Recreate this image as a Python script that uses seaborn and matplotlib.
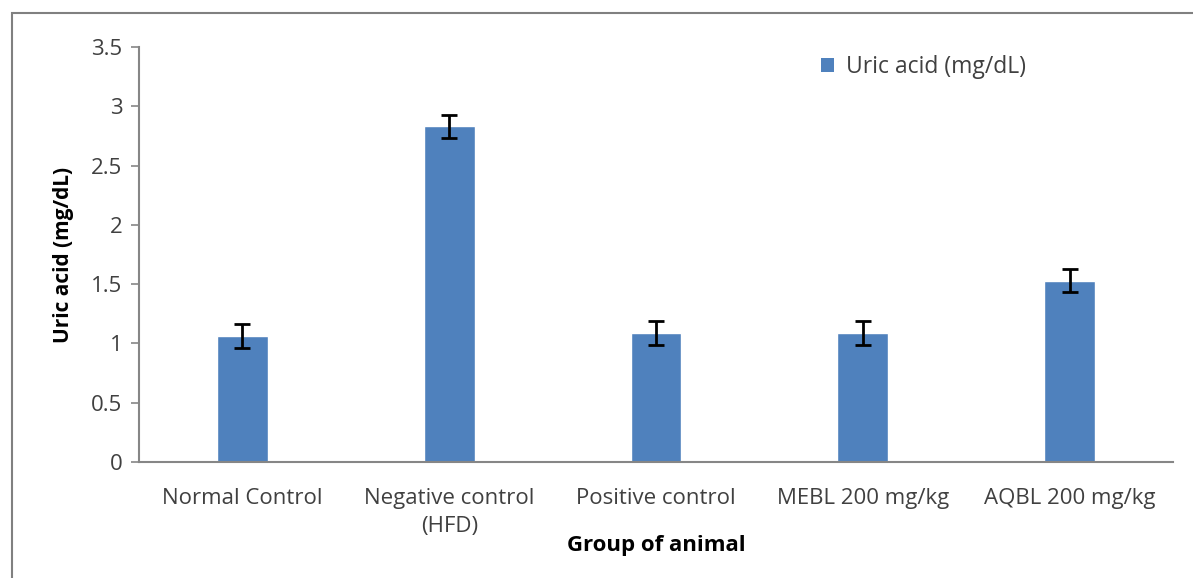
import matplotlib
matplotlib.use("Agg")
import matplotlib.pyplot as plt
import seaborn as sns
import pandas as pd
from matplotlib.patches import Rectangle, Patch

# Serum uric acid per treatment group (mean ± error)
groups = ["Normal Control", "Negative control\n(HFD)", "Positive control",
          "MEBL 200 mg/kg", "AQBL 200 mg/kg"]
uric_acid = [1.06, 2.83, 1.09, 1.09, 1.53]
uric_err = [0.10, 0.10, 0.10, 0.10, 0.10]
y_ticks = [0, 0.5, 1, 1.5, 2, 2.5, 3, 3.5]
y_tick_labels = ["0", "0.5", "1", "1.5", "2", "2.5", "3", "3.5"]

bar_color = "#4F81BD"
axis_gray = "#868686"
text_color = "#404040"

sns.set_theme(style="white")
plt.rcParams["font.family"] = ["Open Sans", "DejaVu Sans"]

fig = plt.figure(figsize=(11.93, 5.78), dpi=100)
ax = fig.add_axes([139 / 1193, 1 - 462 / 578, (1173 - 139) / 1193, (462 - 47) / 578])

df = pd.DataFrame({"group": groups, "value": uric_acid})
sns.barplot(data=df, x="group", y="value", color=bar_color, width=0.245,
            errorbar=None, saturation=1, ax=ax, zorder=2)

centers = [p.get_x() + p.get_width() / 2 for p in ax.patches]
ax.errorbar(centers, uric_acid, yerr=uric_err, fmt="none", ecolor="black",
            elinewidth=2, capsize=6, capthick=2, zorder=3)

ax.set_ylim(0, 3.5)
ax.set_xlim(-0.5, len(groups) - 0.5)
ax.set_yticks(y_ticks)
ax.set_yticklabels(y_tick_labels)

for side in ["top", "right"]:
    ax.spines[side].set_visible(False)
for side in ["left", "bottom"]:
    ax.spines[side].set_color(axis_gray)
    ax.spines[side].set_linewidth(1.5)

ax.tick_params(axis="y", which="both", left=True, length=6, width=1.2,
               color=axis_gray, labelsize=16, labelcolor=text_color, pad=6)
ax.tick_params(axis="x", bottom=False, labelsize=16, labelcolor=text_color, pad=13)
for lbl in ax.get_xticklabels():
    lbl.set_linespacing(1.4)

ax.set_xlabel("Group of animal", fontsize=16, fontweight="bold",
              color="black", labelpad=-1)
ax.set_ylabel("Uric acid (mg/dL)", fontsize=15, fontweight="bold",
              color="black", labelpad=12)

handle = Patch(facecolor=bar_color, edgecolor="none")
ax.legend([handle], ["Uric acid (mg/dL)"], loc="upper left",
          bbox_to_anchor=((800 - 139) / (1173 - 139), 1.03),
          frameon=False, fontsize=16.5, handlelength=0.6, handleheight=0.6,
          handletextpad=0.5, labelcolor=text_color)

# Outer frame line along the top and left edges
fig.patches.append(Rectangle((12 / 1193, -0.1), 1.2, 1 - 13 / 578 + 0.1,
                             transform=fig.transFigure, fill=False,
                             edgecolor="#808080", linewidth=1.5, zorder=0))

fig.savefig("out.png", dpi=100, facecolor="white")
